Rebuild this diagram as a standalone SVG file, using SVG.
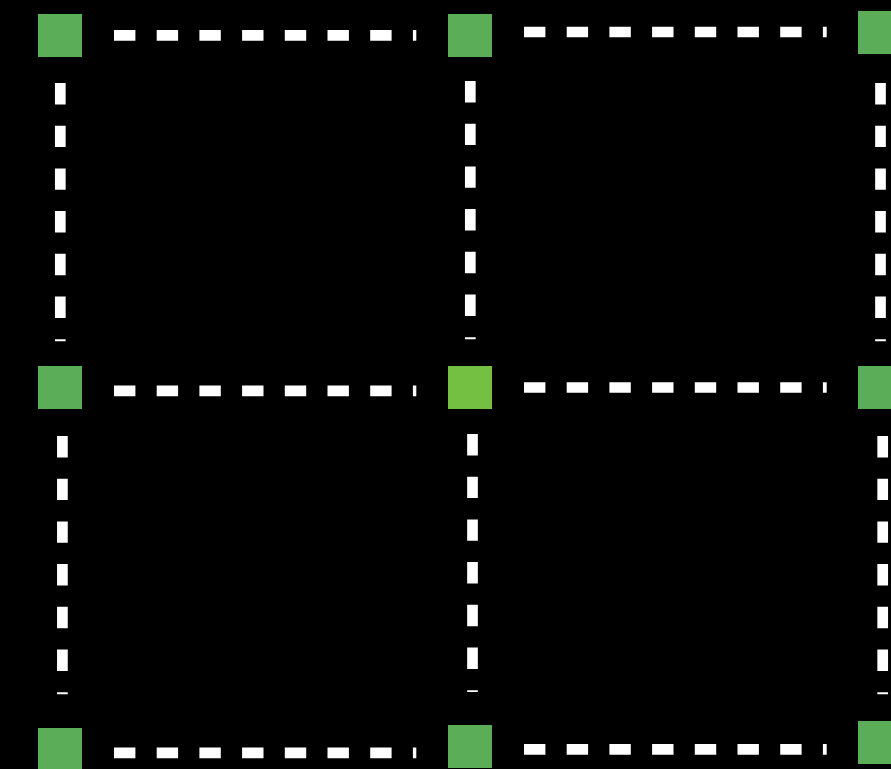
<svg xmlns="http://www.w3.org/2000/svg" width="891" height="769" viewBox="0 0 891 769">
<style>
.bg{fill:#000}
.n{fill:#5BAD57}
.c{fill:#73C043}
.e{stroke:#fff;stroke-width:10.7;stroke-dasharray:21.4 21.3;fill:none}
</style>
<rect class="bg" x="0" y="0" width="891" height="769"/>
<g id="connectors">
<line class="e" x1="114" y1="35.3" x2="416.3" y2="35.3"/>
<line class="e" x1="524" y1="32" x2="826.7" y2="32"/>
<line class="e" x1="114" y1="390.8" x2="416.3" y2="390.8"/>
<line class="e" x1="524" y1="387.5" x2="826.7" y2="387.5"/>
<line class="e" x1="114" y1="752.8" x2="416.3" y2="752.8"/>
<line class="e" x1="524" y1="749.3" x2="826.7" y2="749.3"/>
<line class="e" x1="60.3" y1="83" x2="60.3" y2="341.3"/>
<line class="e" x1="470.3" y1="81" x2="470.3" y2="339.3"/>
<line class="e" x1="880.5" y1="83" x2="880.5" y2="341.3"/>
<line class="e" x1="62.4" y1="436" x2="62.4" y2="694.3"/>
<line class="e" x1="472.5" y1="434" x2="472.5" y2="692"/>
<line class="e" x1="882.7" y1="436" x2="882.7" y2="694.3"/>
</g>
<g id="node1"><rect class="n" x="38" y="14" width="44" height="43"/></g>
<g id="node2"><rect class="n" x="448" y="14" width="44" height="43"/></g>
<g id="node3"><rect class="n" x="858" y="11" width="44" height="43"/></g>
<g id="node4"><rect class="n" x="38" y="366" width="44" height="43"/></g>
<g id="node5"><rect class="c" x="448" y="366" width="44" height="43"/></g>
<g id="node6"><rect class="n" x="858" y="366" width="44" height="43"/></g>
<g id="node7"><rect class="n" x="38" y="728" width="44" height="43"/></g>
<g id="node8"><rect class="n" x="448" y="725" width="44" height="43"/></g>
<g id="node9"><rect class="n" x="858" y="721" width="44" height="43"/></g>
</svg>
